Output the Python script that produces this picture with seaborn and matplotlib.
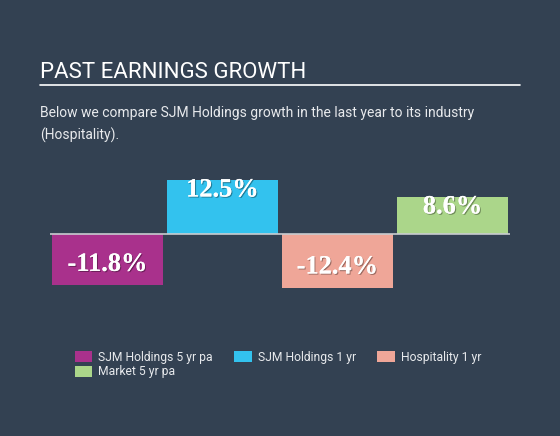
import pandas as pd
import matplotlib
matplotlib.use("Agg")
import matplotlib.pyplot as plt
import matplotlib.patheffects as pe
import seaborn as sns

# data
categories = ["SJM Holdings 5 yr pa", "SJM Holdings 1 yr", "Hospitality 1 yr", "Market 5 yr pa"]
growth = [-11.8, 12.5, -12.4, 8.6]
labels = ["-11.8%", "12.5%", "-12.4%", "8.6%"]
colors = ["#a9318c", "#33c2ee", "#efa698", "#abd68a"]

bg = "#334152"

sns.set_theme(style="white")
plt.rcParams["font.family"] = ["Roboto", "DejaVu Sans"]

df = pd.DataFrame({"cat": categories, "val": growth})

fig = plt.figure(figsize=(5.6, 4.36), dpi=100, facecolor=bg)
ax = fig.add_axes([50 / 560, 1 - 300 / 436, 460 / 560, 130 / 436])
ax.set_facecolor(bg)

sns.barplot(data=df, x="cat", y="val", hue="cat", palette=colors, dodge=False,
            width=0.965, saturation=1, linewidth=0, ax=ax, legend=True)

ax.set_xlim(-0.5, 3.5)
ax.set_ylim(-15.2, 14.7)
ax.axhline(0, color="#c8ccd0", lw=1.2, zorder=3)
for s in ax.spines.values():
    s.set_visible(False)
ax.set_xticks([])
ax.set_yticks([])
ax.set_xlabel("")
ax.set_ylabel("")

shadow = [pe.withSimplePatchShadow(offset=(0.8, -0.8), shadow_rgbFace="black", alpha=0.35), pe.Normal()]
for i, (v, t) in enumerate(zip(growth, labels)):
    off = -7.5 if v > 0 else 15
    ax.annotate(t, (i, v), xytext=(0, off), textcoords="offset points", ha="center", va="center",
                color="white", fontsize=19, fontweight="bold", family="Liberation Serif",
                path_effects=shadow, zorder=5)

handles, labs = ax.get_legend_handles_labels()
ax.get_legend().remove()
order = [0, 3, 1, 2]  # row-major fill for ncol=3
fig.legend([handles[i] for i in order], [labs[i] for i in order], loc="upper left",
           bbox_to_anchor=(70 / 560, 1 - 346 / 436), ncol=3,
           frameon=False, fontsize=8.7, labelcolor="#e8eaed", handlelength=1.45, handleheight=1.0,
           handletextpad=0.5, columnspacing=1.75, labelspacing=0.12, borderaxespad=0)

fig.text(40 / 560, 1 - 72 / 436, "PAST EARNINGS GROWTH", color="white", fontsize=16, va="center", ha="left")
fig.add_artist(plt.Line2D([40 / 560, 520 / 560], [1 - 85 / 436, 1 - 85 / 436], color="white", lw=1.2))
fig.text(40 / 560, 1 - 113 / 436, "Below we compare SJM Holdings growth in the last year to its industry",
         color="#e8eaed", fontsize=10, va="center", ha="left")
fig.text(40 / 560, 1 - 135 / 436, "(Hospitality).", color="#e8eaed", fontsize=10, va="center", ha="left")

fig.savefig("out.png", dpi=100, facecolor=bg)
